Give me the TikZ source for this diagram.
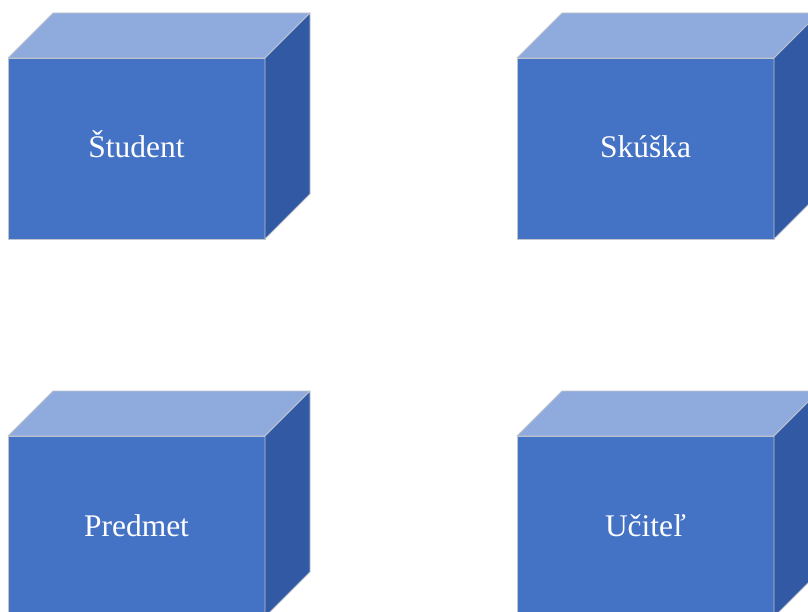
\documentclass[tikz,border=0pt]{standalone}
\usepackage{fontspec}
\setmainfont{Liberation Serif}
\usepackage{xcolor}
\definecolor{boxfront}{RGB}{68,114,196}
\definecolor{boxtop}{RGB}{143,170,220}
\definecolor{boxside}{RGB}{50,89,164}
\definecolor{boxedge}{RGB}{191,196,204}

\begin{document}
\begin{tikzpicture}[x=1pt,y=1pt]
    \tikzstyle{front} = [rectangle, draw=boxedge, line width=0.8pt, fill=boxfront, text=white, inner sep=0pt, outer sep=0pt, minimum width=257pt, minimum height=181pt, text height=22pt, text depth=3pt, font=\fontsize{31.5}{36}\selectfont]
    \tikzstyle{topface} = [draw=boxedge, line width=0.8pt, fill=boxtop, line join=round]
    \tikzstyle{sideface} = [draw=boxedge, line width=0.8pt, fill=boxside, line join=round]

    \useasboundingbox (0,0) rectangle (808,611);

    \node[front] (student) at (136.5,462.5) {Študent};
    \node[front] (skuska) at (645.5,462.5) {Skúška};
    \node[front] (predmet) at (136.5,84.5) {Predmet};
    \node[front] (ucitel) at (645.5,84.5) {Učiteľ};

    % top and right faces of each box
    \foreach \n in {student,skuska,predmet,ucitel} {
        \draw[topface] (\n.north west) -- ++(45,45) -- ++(257,0) -- (\n.north east) -- cycle;
        \draw[sideface] (\n.north east) -- ++(45,45) -- ++(0,-181) -- (\n.south east) -- cycle;
    }
\end{tikzpicture}
\end{document}
